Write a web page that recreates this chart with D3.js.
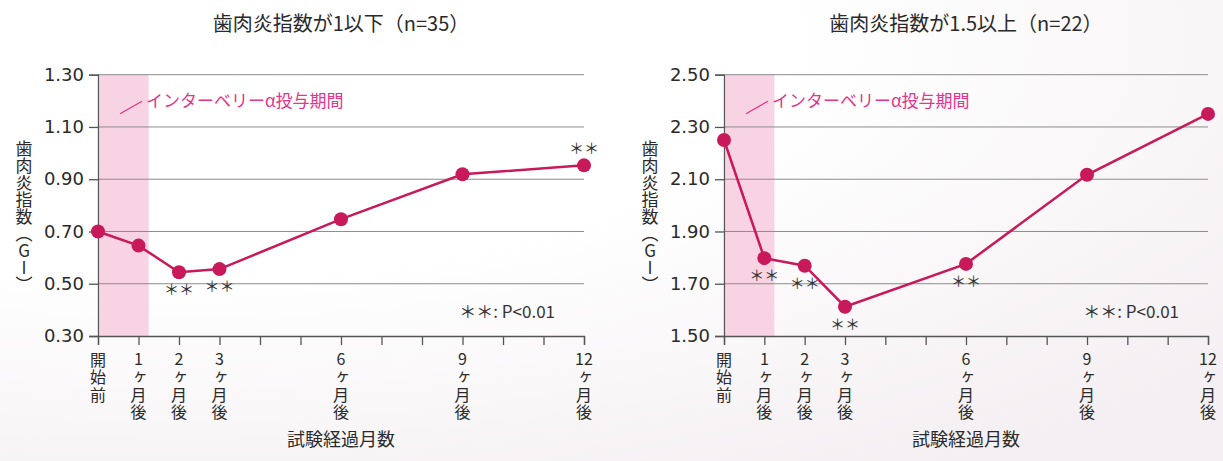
<!DOCTYPE html>
<html>
<head>
<meta charset="utf-8">
<script src="https://cdn.jsdelivr.net/npm/d3@7"></script>
<style>
    body { margin: 0; background: #fff; }
    text { font-family: "Noto Sans CJK JP", sans-serif; fill: #333; }
</style>
</head>
<body>
<div id="chart"></div>
<script>
// months where data was measured, and the tick labels under them
const months = [0, 1, 2, 3, 6, 9, 12];
const tickLabels = ["開始前", "1ヶ月後", "2ヶ月後", "3ヶ月後", "6ヶ月後", "9ヶ月後", "12ヶ月後"];

// left panel: GI <= 1
const lowTitle = "歯肉炎指数が1以下（n=35）";
const lowValues = [0.70, 0.646, 0.544, 0.556, 0.747, 0.919, 0.953];
const lowTicks = [0.30, 0.50, 0.70, 0.90, 1.10, 1.30];
const lowSigMonths = [2, 3, 12];
const lowSigSide = ["below", "below", "above"];

// right panel: GI >= 1.5
const highTitle = "歯肉炎指数が1.5以上（n=22）";
const highValues = [2.25, 1.798, 1.769, 1.612, 1.776, 2.117, 2.35];
const highTicks = [1.50, 1.70, 1.90, 2.10, 2.30, 2.50];
const highSigMonths = [1, 2, 3, 6];
const highSigSide = ["below", "below", "below", "below"];

const dosingEnd = 1.25;  // pink band: 0 .. 1.25 months
const dosingText = "インターベリーα投与期間";
const yTitle = "歯肉炎指数（GI）";
const xTitle = "試験経過月数";
const sigNote = "＊＊: P<0.01";

const lineColor = "#c8195a";

const W = 1223, H = 461;

const svg = d3.select("#chart")
    .append("svg")
    .attr("width", W)
    .attr("height", H);

// faint background shading like the original
const grad = svg.append("defs").append("radialGradient")
    .attr("id", "bg")
    .attr("cx", "0.15").attr("cy", "0.1").attr("r", "1.1");
grad.append("stop").attr("offset", "0.45").attr("stop-color", "#ffffff");
grad.append("stop").attr("offset", "1").attr("stop-color", "#f4eff2");
svg.append("rect").attr("width", W).attr("height", H).attr("fill", "url(#bg)");

function drawPanel(left, right, title, values, ticks, sigMonths, sigSide) {
    const top = 74.7, bottom = 336;

    const x = d3.scaleLinear().domain([0, 12]).range([left, right]);
    const y = d3.scaleLinear().domain([ticks[0], ticks[ticks.length - 1]]).range([bottom, top]);

    const g = svg.append("g");

    // title
    g.append("text")
        .attr("x", (left + right) / 2)
        .attr("y", 31)
        .attr("text-anchor", "middle")
        .style("font-size", "20px")
        .style("fill", "#2a2a2a")
        .text(title);

    // dosing band
    g.append("rect")
        .attr("x", x(0) + 1.5)
        .attr("y", top)
        .attr("width", x(dosingEnd) - x(0) - 1.5)
        .attr("height", bottom - top)
        .attr("fill", "#f8d3e3");

    // gridlines
    g.selectAll(".grid")
        .data(ticks.slice(1))
        .join("line")
        .attr("x1", left)
        .attr("x2", right)
        .attr("y1", d => y(d))
        .attr("y2", d => y(d))
        .attr("stroke", "#8c8c8c")
        .attr("stroke-width", 1);

    // y axis
    const yAxis = g.append("g")
        .attr("transform", `translate(${left},0)`)
        .call(d3.axisLeft(y).tickValues(ticks).tickFormat(d3.format(".2f")).tickSizeOuter(0).tickSize(9).tickPadding(5));
    yAxis.selectAll("text")
        .style("font-family", "'DejaVu Sans', sans-serif")
        .style("font-size", "18px")
        .style("fill", "#2a2a2a");

    // x axis, ticks every month
    const xAxis = g.append("g")
        .attr("transform", `translate(0,${bottom})`)
        .call(d3.axisBottom(x).tickValues(d3.range(0, 13)).tickFormat("").tickSizeOuter(0).tickSize(9));

    [yAxis, xAxis].forEach(a => {
        a.select(".domain").attr("stroke", "#555").attr("stroke-width", 1.3);
        a.selectAll(".tick line").attr("stroke", "#555").attr("stroke-width", 1.3);
    });

    // stacked tick labels: number on top (horizontal), the rest written vertically
    months.forEach((m, i) => {
        const label = tickLabels[i];
        const num = label.match(/^\d+/);
        if (num) {
            g.append("text")
                .attr("x", x(m))
                .attr("y", 365)
                .attr("text-anchor", "middle")
                .style("font-size", "16px")
                .style("fill", "#2a2a2a")
                .text(num[0]);
        }
        g.append("text")
            .attr("x", x(m))
            .attr("y", num ? 369 : 351.5)
            .style("writing-mode", "vertical-rl")
            .style("text-orientation", "upright")
            .style("letter-spacing", "1.5px")
            .style("font-size", "16px")
            .style("fill", "#2a2a2a")
            .text(num ? label.slice(num[0].length) : label);
    });

    // x title
    g.append("text")
        .attr("x", (left + right) / 2)
        .attr("y", 446)
        .attr("text-anchor", "middle")
        .style("font-size", "18px")
        .style("fill", "#2a2a2a")
        .text(xTitle);

    // y title (vertical)
    g.append("text")
        .attr("x", left - 74)
        .attr("y", 140)
        .style("writing-mode", "vertical-rl")
        .style("text-orientation", "upright")
        .style("font-size", "17px")
        .style("fill", "#2a2a2a")
        .text(yTitle);

    // dosing annotation
    g.append("line")
        .attr("x1", left + 22)
        .attr("y1", top + 39)
        .attr("x2", left + 44)
        .attr("y2", top + 26.5)
        .attr("stroke", "#e4358a")
        .attr("stroke-width", 1.3);
    g.append("text")
        .attr("x", left + 48)
        .attr("y", top + 32)
        .style("font-size", "17px")
        .style("fill", "#e4358a")
        .text(dosingText);

    // data line
    const pts = months.map((m, i) => [m, values[i]]);
    g.append("path")
        .datum(pts)
        .attr("fill", "none")
        .attr("stroke", lineColor)
        .attr("stroke-width", 2.5)
        .attr("d", d3.line().x(d => x(d[0])).y(d => y(d[1])));

    g.selectAll(".pt")
        .data(pts)
        .join("circle")
        .attr("cx", d => x(d[0]))
        .attr("cy", d => y(d[1]))
        .attr("r", 7)
        .attr("fill", lineColor);

    // significance marks
    sigMonths.forEach((m, i) => {
        const v = values[months.indexOf(m)];
        g.append("text")
            .attr("x", x(m))
            .attr("y", y(v) + (sigSide[i] === "below" ? 23 : -11))
            .attr("text-anchor", "middle")
            .style("font-size", "15px")
            .style("fill", "#333")
            .text("＊＊");
    });

    // p-value note
    g.append("text")
        .attr("x", right - 29)
        .attr("y", 318)
        .attr("text-anchor", "end")
        .style("font-size", "17px")
        .style("fill", "#333")
        .text(sigNote);
}

drawPanel(98, 584, lowTitle, lowValues, lowTicks, lowSigMonths, lowSigSide);
drawPanel(724, 1208, highTitle, highValues, highTicks, highSigMonths, highSigSide);
</script>
</body>
</html>
